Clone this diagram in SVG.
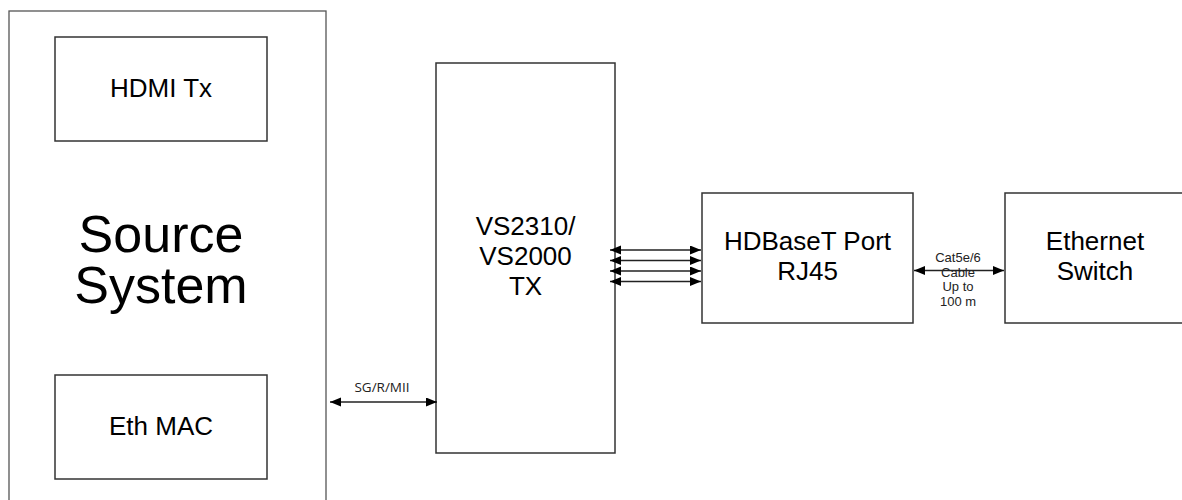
<svg xmlns="http://www.w3.org/2000/svg" width="1182" height="500" viewBox="0 0 1182 500">
<style>
.box{fill:#fff;stroke:#333;stroke-width:1.5}
.outer{fill:#fff;stroke:#555;stroke-width:1.3}
.t{font-family:"Liberation Sans",Arial,sans-serif;fill:#000;text-anchor:middle}
.big{font-size:26px}
.huge{font-size:52px}
.small{font-size:13px;fill:#222}
.cal{font-family:"Open Sans","Noto Sans",sans-serif;font-size:13.5px;fill:#222;text-anchor:middle}
.conn{stroke:#222;stroke-width:1.4;fill:none;marker-start:url(#ah);marker-end:url(#ah)}
</style>
<defs>
<marker id="ah" markerUnits="userSpaceOnUse" markerWidth="12" markerHeight="10" refX="11" refY="4.5" orient="auto-start-reverse" viewBox="0 0 12 10">
<path d="M0,0 L11,4.5 L0,9 z" fill="#000"/>
</marker>
</defs>
<rect width="1182" height="500" fill="#fff"/>
<g id="source-system">
<rect class="outer" x="9" y="11" width="317" height="520"/>
<text class="t huge" x="161" y="252">Source</text>
<text class="t huge" x="161" y="303">System</text>
</g>
<g id="hdmi-tx">
<rect class="box" x="55" y="37" width="212" height="104"/>
<text class="t big" x="161" y="97">HDMI Tx</text>
</g>
<g id="eth-mac">
<rect class="box" x="55" y="375" width="212" height="104"/>
<text class="t big" x="161" y="435">Eth MAC</text>
</g>
<g id="vs2310">
<rect class="box" x="436" y="63" width="179" height="390"/>
<text class="t big" x="525.5" y="235">VS2310/</text>
<text class="t big" x="525.5" y="265">VS2000</text>
<text class="t big" x="525.5" y="295">TX</text>
</g>
<g id="hdbaset">
<rect class="box" x="702" y="193" width="211" height="130"/>
<text class="t big" x="807.5" y="250">HDBaseT Port</text>
<text class="t big" x="807.5" y="280">RJ45</text>
</g>
<g id="ethernet-switch">
<rect class="box" x="1005" y="193" width="180" height="130"/>
<text class="t big" x="1095" y="250">Ethernet</text>
<text class="t big" x="1095" y="280">Switch</text>
</g>
<g id="connectors">
<line class="conn" x1="330" y1="402" x2="437" y2="402"/>
<text class="cal" x="382" y="392">SG/R/MII</text>
<line class="conn" x1="610" y1="250" x2="701" y2="250"/>
<line class="conn" x1="610" y1="260.5" x2="701" y2="260.5"/>
<line class="conn" x1="610" y1="271" x2="701" y2="271"/>
<line class="conn" x1="610" y1="281.5" x2="701" y2="281.5"/>
<line class="conn" x1="914" y1="270.5" x2="1004" y2="270.5"/>
<text class="t small" x="958" y="262">Cat5e/6</text>
<text class="t small" x="958" y="276.5">Cable</text>
<text class="t small" x="958" y="291">Up to</text>
<text class="t small" x="958" y="305.5">100 m</text>
</g>
</svg>
